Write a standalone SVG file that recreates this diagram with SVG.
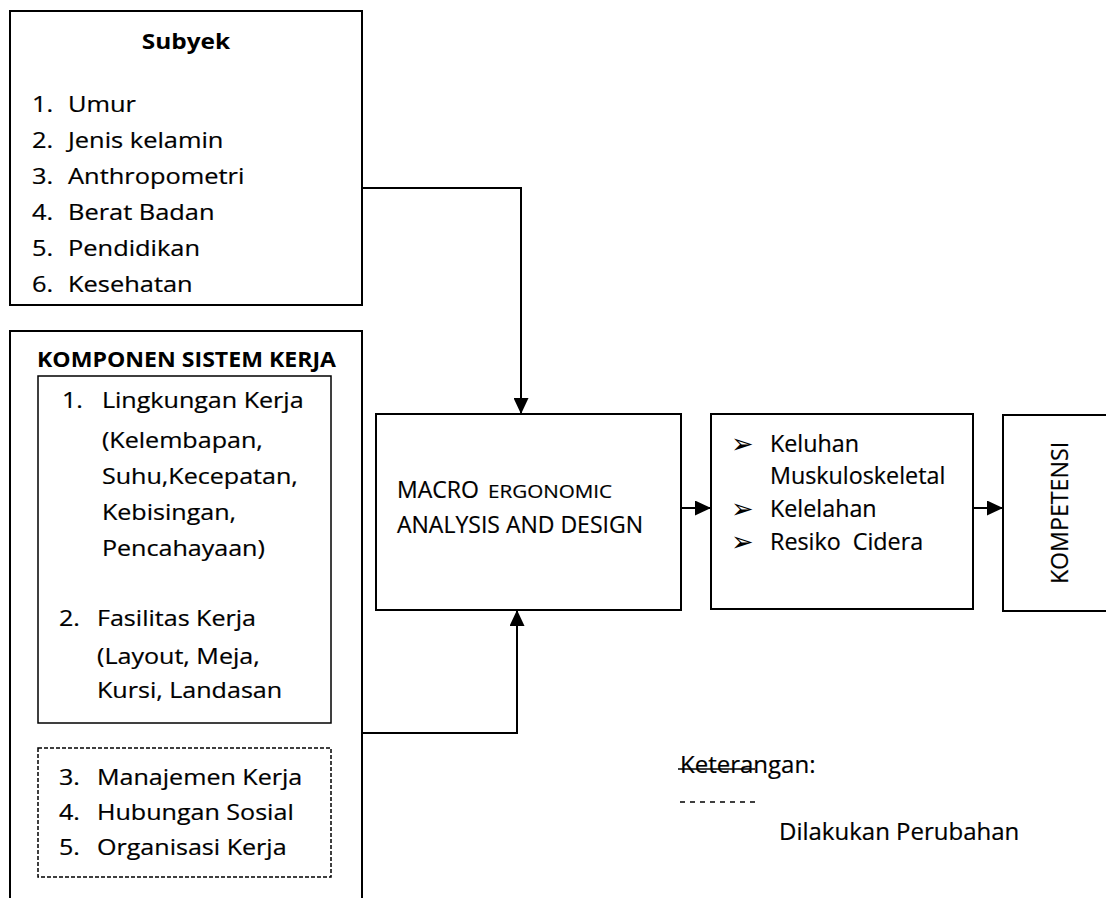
<svg xmlns="http://www.w3.org/2000/svg" width="1106" height="898" viewBox="0 0 1106 898">
<style>
.t{font-family:"Open Sans","Noto Sans",sans-serif;fill:#000;stroke:#000;stroke-width:0.2}
.s22{font-size:22px}
.s23{font-size:23px}
.s24{font-size:24px}
.b{font-weight:bold;stroke-width:0}
.box{fill:#fff;stroke:#000;stroke-width:2}
.thin{fill:none;stroke:#000;stroke-width:1.5}
.dash{fill:none;stroke:#000;stroke-width:1.5;stroke-dasharray:4 2}
.con{fill:none;stroke:#000;stroke-width:2}
.bul{font-family:"DejaVu Sans",sans-serif;font-size:27px;fill:#000}
</style>
<defs>
<marker id="ah" markerUnits="userSpaceOnUse" markerWidth="16" markerHeight="15" refX="16" refY="7.5" orient="auto">
<path d="M0,0 L16,7.5 L0,15 z" fill="#000"/>
</marker>
</defs>
<rect width="1106" height="898" fill="#fff"/>

<g id="subyek">
<rect class="box" x="10" y="11" width="352" height="294"/>
<text class="t s22 b" x="186" y="49" text-anchor="middle" transform="matrix(1.11 0 0 1 -20.46 0)">Subyek</text>
<g class="t s22" transform="matrix(1.155 0 0 1 -4.96 0)">
<text x="32" y="112">1.</text><text x="63.2" y="112">Umur</text>
<text x="32" y="148">2.</text><text x="63.2" y="148">Jenis kelamin</text>
<text x="32" y="184">3.</text><text x="63.2" y="184">Anthropometri</text>
<text x="32" y="220">4.</text><text x="63.2" y="220">Berat Badan</text>
<text x="32" y="256">5.</text><text x="63.2" y="256">Pendidikan</text>
<text x="32" y="292">6.</text><text x="63.2" y="292">Kesehatan</text>
</g>
</g>

<g id="komponen">
<path class="box" d="M10,900 V331 H362 V900"/>
<text class="t s22 b" x="186.5" y="367" text-anchor="middle" transform="matrix(1.05 0 0 1 -9.33 0)">KOMPONEN SISTEM KERJA</text>
<rect class="thin" x="38" y="376" width="293" height="347"/>
<rect class="dash" x="38" y="748" width="293" height="129"/>
<g class="t s22" transform="matrix(1.14 0 0 1 -5.32 0)">
<text x="59" y="408">1.</text><text x="94.1" y="408">Lingkungan Kerja</text>
<text x="94.1" y="448">(Kelembapan,</text>
<text x="94.1" y="484">Suhu,Kecepatan,</text>
<text x="94.1" y="520">Kebisingan,</text>
<text x="94.1" y="556">Pencahayaan)</text>
<text x="56.4" y="626">2.</text><text x="89.75" y="626">Fasilitas Kerja</text>
<text x="89.75" y="664">(Layout, Meja,</text>
<text x="89.75" y="698">Kursi, Landasan</text>
<text x="56.4" y="785">3.</text><text x="89.75" y="785">Manajemen Kerja</text>
<text x="56.4" y="820">4.</text><text x="89.75" y="820">Hubungan Sosial</text>
<text x="56.4" y="855">5.</text><text x="89.75" y="855">Organisasi Kerja</text>
</g>
</g>

<g id="macro">
<rect class="box" x="376" y="414" width="305" height="196"/>
<text class="t s23" x="397" y="498">MACRO</text>
<text class="t" x="488" y="498" style="font-size:18.5px" textLength="124" lengthAdjust="spacingAndGlyphs">ERGONOMIC</text>
<text class="t s23" x="397" y="533">ANALYSIS AND DESIGN</text>
</g>

<g id="dampak">
<rect class="box" x="711" y="414" width="262" height="195"/>
<text class="bul" x="731" y="453">➢</text><text class="t" style="font-size:23.3px" x="770" y="452">Keluhan</text>
<text class="t" style="font-size:23.3px" x="770" y="484">Muskuloskeletal</text>
<text class="bul" x="731" y="518">➢</text><text class="t" style="font-size:23.3px" x="770" y="517">Kelelahan</text>
<text class="bul" x="731" y="551">➢</text><text class="t" style="font-size:23.3px" x="770" y="550" xml:space="preserve">Resiko  Cidera</text>
</g>

<g id="kompetensi">
<path class="box" d="M1110,415 H1003 V611 H1110"/>
<text class="t" style="font-size:23.2px" text-anchor="middle" transform="translate(1068,513) rotate(-90)">KOMPETENSI</text>
</g>

<g id="connectors">
<path class="con" d="M362,188 H521 V414" marker-end="url(#ah)"/>
<path class="con" d="M362,733 H517 V610" marker-end="url(#ah)"/>
<path class="con" d="M681,508 H711" marker-end="url(#ah)"/>
<path class="con" d="M973,508 H1003" marker-end="url(#ah)"/>
</g>

<g id="keterangan">
<text class="t s24" x="680" y="773">Keterangan:</text>
<line x1="678" y1="769" x2="755" y2="769" stroke="#000" stroke-width="1.5"/>
<line x1="680" y1="802" x2="760" y2="802" stroke="#000" stroke-width="1.5" stroke-dasharray="5 5"/>
<text class="t s24" x="779" y="840">Dilakukan Perubahan</text>
</g>
</svg>
